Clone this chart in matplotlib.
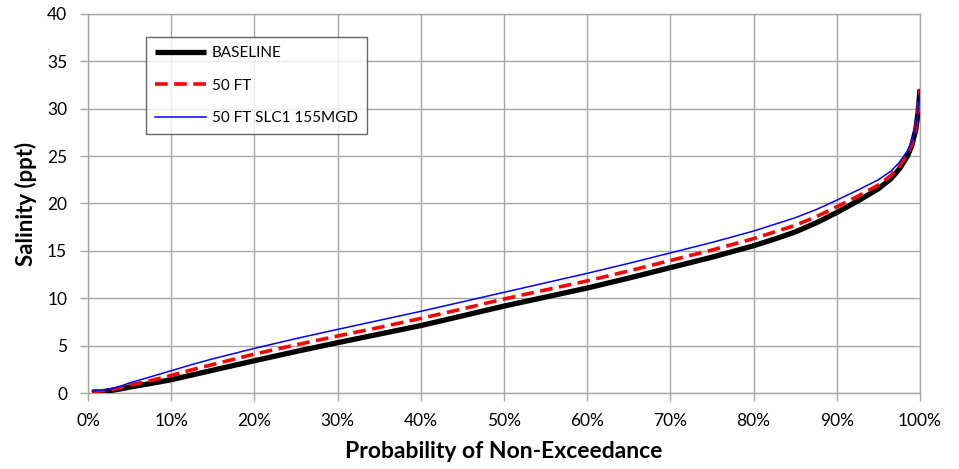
import matplotlib
matplotlib.use("Agg")
import matplotlib.pyplot as plt
from matplotlib.ticker import FixedLocator

# Probability of non-exceedance (%) and salinity (ppt) for each scenario
prob = [0.5, 2, 3, 4, 5, 7.5, 10, 12.5, 15, 17.5, 20, 25, 30, 35, 40, 45, 50,
        55, 60, 65, 70, 75, 80, 82.5, 85, 87.5, 90, 92.5, 95, 96.5, 97.5,
        98.5, 99, 99.5, 99.8, 100]

baseline = [0.15, 0.22, 0.35, 0.5, 0.68, 1.05, 1.45, 1.95, 2.45, 2.95, 3.45,
            4.42, 5.35, 6.25, 7.15, 8.17, 9.2, 10.15, 11.1, 12.15, 13.25,
            14.35, 15.55, 16.25, 17.0, 17.95, 19.05, 20.25, 21.55, 22.6, 23.6,
            25.0, 26.05, 27.8, 29.8, 32.0]

ft50 = [0.2, 0.3, 0.45, 0.65, 0.88, 1.35, 1.9, 2.5, 3.05, 3.6, 4.15, 5.12,
        6.05, 6.95, 7.9, 8.9, 9.95, 10.9, 11.85, 12.9, 14.0, 15.1, 16.3, 17.0,
        17.7, 18.6, 19.65, 20.75, 21.95, 22.95, 23.9, 25.25, 26.25, 27.95,
        29.9, 32.0]

ft50_slc1 = [0.25, 0.38, 0.55, 0.8, 1.12, 1.75, 2.4, 3.05, 3.65, 4.2, 4.75,
             5.78, 6.75, 7.7, 8.65, 9.65, 10.65, 11.65, 12.65, 13.7, 14.8,
             15.9, 17.1, 17.8, 18.5, 19.35, 20.35, 21.4, 22.5, 23.4, 24.3,
             25.55, 26.5, 28.1, 30.0, 32.0]

x_ticks = [0, 10, 20, 30, 40, 50, 60, 70, 80, 90, 100]
x_ticklabels = [f"{v}%" for v in x_ticks]
y_ticks = [0, 5, 10, 15, 20, 25, 30, 35, 40]

plt.rcParams['font.family'] = ['Lato', 'DejaVu Sans']

fig = plt.figure(figsize=(9.59, 4.69), dpi=100)
ax = fig.add_axes([0.0918, 0.161, 0.8675, 0.8102])

grid_c = '#a6a6a6'
ax.plot(prob, baseline, color='black', lw=3.8, label='BASELINE',
        solid_capstyle='butt', solid_joinstyle='round', zorder=3)
ax.plot(prob, ft50, color='#ff0000', lw=2.6, ls=(0, (3.5, 1.8)),
        label='50 FT', zorder=4)
ax.plot(prob, ft50_slc1, color='#0000ff', lw=1.1, label='50 FT SLC1 155MGD',
        zorder=5)

ax.set_xlim(0, 100)
ax.set_ylim(0, 40)
ax.xaxis.set_major_locator(FixedLocator(x_ticks))
ax.set_xticklabels(x_ticklabels)
ax.yaxis.set_major_locator(FixedLocator(y_ticks))
ax.grid(True, color=grid_c, lw=1.0)
ax.set_axisbelow(True)

for side in ['left', 'bottom', 'top', 'right']:
    ax.spines[side].set_color(grid_c)
    ax.spines[side].set_linewidth(1.0)

ax.tick_params(axis='both', direction='out', length=6, width=1.0,
               color=grid_c, labelsize=12.5, labelcolor='black')
ax.tick_params(axis='x', pad=8)
ax.tick_params(axis='y', pad=9)

ax.set_xlabel('Probability of Non-Exceedance', fontsize=16.5,
              fontweight='bold', labelpad=9)
ax.set_ylabel('Salinity (ppt)', fontsize=16, fontweight='bold', labelpad=7)

leg = ax.legend(loc='upper left', bbox_to_anchor=(0.0697, 0.938), fontsize=11,
                frameon=True, fancybox=False, handlelength=3.3,
                handletextpad=0.4, labelspacing=1.2, borderpad=0.6,
                borderaxespad=0)
leg.get_frame().set_edgecolor('#404040')
leg.get_frame().set_linewidth(1.0)

fig.savefig('out.png', dpi=100, facecolor='white')
